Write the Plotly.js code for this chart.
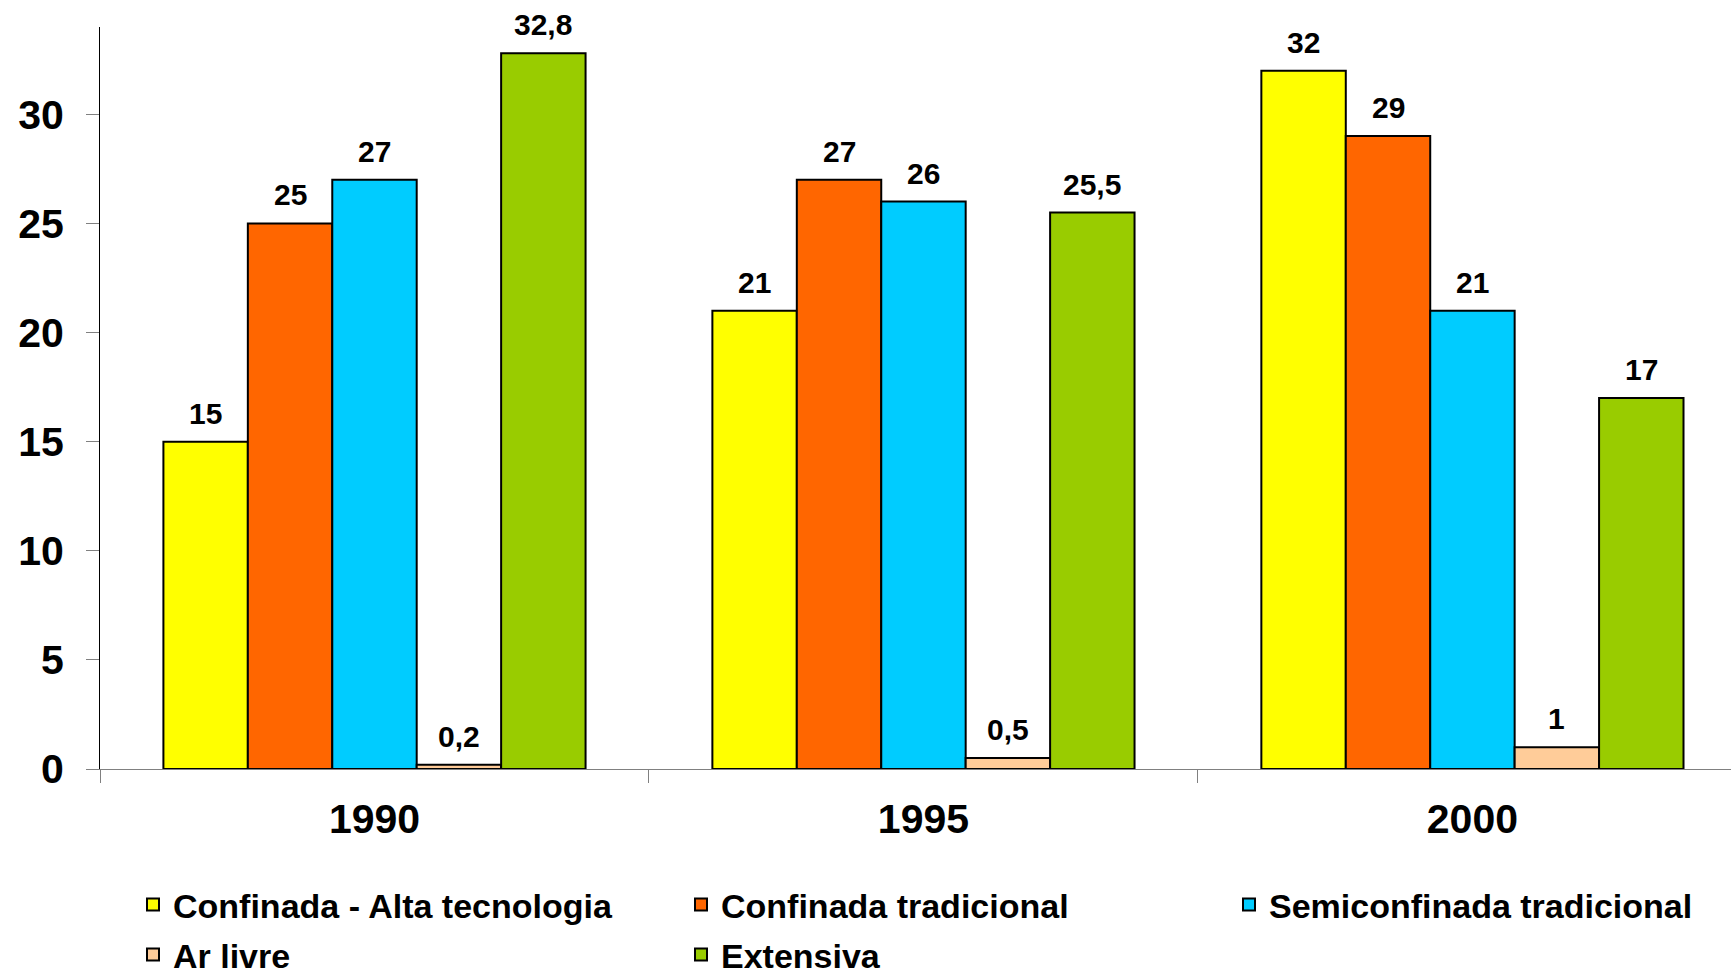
<!DOCTYPE html>
<html>
<head>
<meta charset="utf-8">
<script src="https://cdn.plot.ly/plotly-3.0.1.min.js"></script>
<style>
  html, body { margin: 0; padding: 0; background: #ffffff; }
  #chart { width: 1731px; height: 977px; }
</style>
</head>
<body>
<div id="chart"></div>
<script>
const years = ['1990', '1995', '2000'];
const seriesNames = ['Confinada - Alta tecnologia', 'Confinada tradicional', 'Semiconfinada tradicional', 'Ar livre', 'Extensiva'];
const confinadaAlta = [15, 21, 32];
const confinadaTrad = [25, 27, 29];
const semiconfinada = [27, 26, 21];
const arLivre = [0.2, 0.5, 1];
const extensiva = [32.8, 25.5, 17];
const seriesColors = ['#FFFF00', '#FF6600', '#00CCFF', '#FFCC99', '#99CC00'];
const yTicks = [0, 5, 10, 15, 20, 25, 30];

const FONT = 'Arial, "Liberation Sans", sans-serif';
const allValues = [confinadaAlta, confinadaTrad, semiconfinada, arLivre, extensiva];
const BARGAP = 0.231;
const nSeries = allValues.length;
const barW = (1 - BARGAP) / nSeries;

const fmt = v => String(v).replace('.', ',');

// row 1: first two items, row 1 third column, row 2
const legendOf = ['legend', 'legend', 'legend3', 'legend2', 'legend2'];

const traces = allValues.map((vals, i) => ({
  type: 'bar',
  name: seriesNames[i],
  x: years,
  y: vals,
  marker: { color: seriesColors[i], line: { color: '#000000', width: 2 } },
  legend: legendOf[i],
  hoverinfo: 'x+y+name'
}));

// value labels above each bar, positioned through the axes
const annotations = [];
allValues.forEach((vals, i) => {
  vals.forEach((v, j) => {
    annotations.push({
      xref: 'x', yref: 'y',
      x: j + (i - (nSeries - 1) / 2) * barW,
      y: v,
      text: fmt(v),
      showarrow: false,
      xanchor: 'center',
      yanchor: 'bottom',
      yshift: 10,
      font: { family: FONT, size: 30, color: '#000000', weight: 'bold' }
    });
  });
});

const legendCommon = {
  orientation: 'h',
  xref: 'container',
  yref: 'container',
  xanchor: 'left',
  yanchor: 'middle',
  entrywidth: 503,
  entrywidthmode: 'pixels',
  bgcolor: 'rgba(0,0,0,0)',
  font: { family: FONT, size: 34, color: '#000000', weight: 'bold' },
  traceorder: 'normal'
};
const LEG_X = 133;
const COL_PITCH = 548;

const layout = {
  width: 1731,
  height: 977,
  paper_bgcolor: '#ffffff',
  plot_bgcolor: '#ffffff',
  margin: { l: 100, r: 0, t: 27, b: 207.5, pad: 0 },
  barmode: 'group',
  bargap: BARGAP,
  bargroupgap: 0,
  showlegend: true,
  font: { family: FONT, color: '#000000' },
  annotations: annotations,
  xaxis: {
    type: 'category',
    range: [-0.5, 2.471],
    tickson: 'boundaries',
    ticks: 'outside',
    ticklen: 13,
    tickwidth: 1,
    tickcolor: '#808080',
    showline: true,
    linecolor: '#808080',
    linewidth: 1,
    showgrid: false,
    zeroline: false,
    ticklabelstandoff: 14,
    tickfont: { family: FONT, size: 41, color: '#000000', weight: 'bold' }
  },
  yaxis: {
    range: [0, 34],
    tickvals: yTicks,
    ticktext: yTicks.map(String),
    ticks: 'outside',
    ticklen: 13,
    tickwidth: 1,
    tickcolor: '#808080',
    showline: true,
    linecolor: '#000000',
    linewidth: 1,
    showgrid: false,
    zeroline: false,
    ticklabelstandoff: 14,
    tickfont: { family: FONT, size: 41, color: '#000000', weight: 'bold' }
  },
  legend: Object.assign({}, legendCommon, { x: LEG_X / 1731, y: 1 - 905 / 977 }),
  legend3: Object.assign({}, legendCommon, { entrywidth: 0, x: (LEG_X + 2 * COL_PITCH) / 1731, y: 1 - 905 / 977 }),
  legend2: Object.assign({}, legendCommon, { x: LEG_X / 1731, y: 1 - 955 / 977 })
};

Plotly.newPlot('chart', traces, layout, { displayModeBar: false, staticPlot: true });
</script>
</body>
</html>
